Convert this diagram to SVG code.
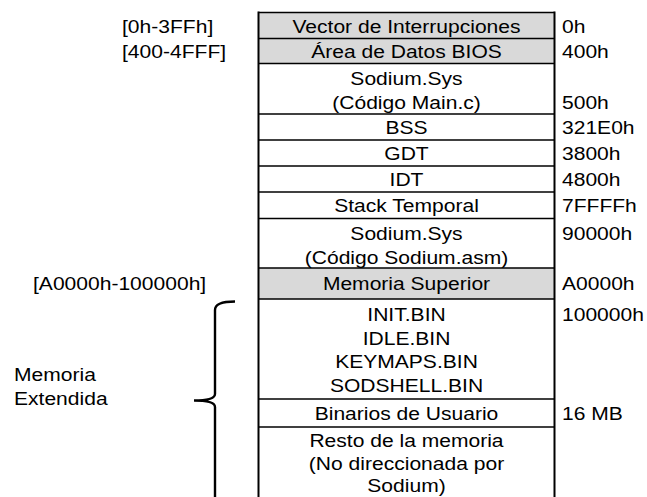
<svg xmlns="http://www.w3.org/2000/svg" width="647" height="497" viewBox="0 0 647 497">
<style>
text{font-family:"Liberation Sans",Arial,sans-serif;font-size:18.3px;fill:#000}
.c{text-anchor:middle}
.sh{fill:#d9d9d9;stroke:none}
.hl{stroke:#000;stroke-width:1.6;fill:none}
.vl{stroke:#000;stroke-width:2;fill:none}
.br{stroke:#000;stroke-width:2.4;fill:none}
</style>
<g id="background">
<rect x="0" y="0" width="647" height="497" fill="#fff"/>
</g>
<g id="shading">
<rect class="sh" x="258.5" y="12.5" width="296" height="51"/>
<rect class="sh" x="258.5" y="268" width="296" height="31"/>
</g>
<g id="grid">
<line class="hl" x1="258.5" y1="12.5" x2="554.5" y2="12.5"/>
<line class="hl" x1="258.5" y1="38.5" x2="554.5" y2="38.5"/>
<line class="hl" x1="258.5" y1="63.5" x2="554.5" y2="63.5"/>
<line class="hl" x1="258.5" y1="114" x2="554.5" y2="114"/>
<line class="hl" x1="258.5" y1="140" x2="554.5" y2="140"/>
<line class="hl" x1="258.5" y1="166" x2="554.5" y2="166"/>
<line class="hl" x1="258.5" y1="192" x2="554.5" y2="192"/>
<line class="hl" x1="258.5" y1="218.5" x2="554.5" y2="218.5"/>
<line class="hl" x1="258.5" y1="268" x2="554.5" y2="268"/>
<line class="hl" x1="258.5" y1="299" x2="554.5" y2="299"/>
<line class="hl" x1="258.5" y1="399" x2="554.5" y2="399"/>
<line class="hl" x1="258.5" y1="427" x2="554.5" y2="427"/>
<line class="vl" x1="258.5" y1="11.5" x2="258.5" y2="497"/>
<line class="vl" x1="554.5" y1="11.5" x2="554.5" y2="497"/>
</g>
<g id="n-vector"><text class="c" transform="translate(406.5,32.5) scale(1.15,1)">Vector de Interrupciones</text></g>
<g id="n-bios"><text class="c" transform="translate(406.5,58) scale(1.15,1)">Área de Datos BIOS</text></g>
<g id="n-sodium-main"><text class="c" transform="translate(406.5,85) scale(1.15,1)">Sodium.Sys</text><text class="c" transform="translate(406.5,108.5) scale(1.15,1)">(Código Main.c)</text></g>
<g id="n-bss"><text class="c" transform="translate(406.5,133.5) scale(1.15,1)">BSS</text></g>
<g id="n-gdt"><text class="c" transform="translate(406.5,159.5) scale(1.15,1)">GDT</text></g>
<g id="n-idt"><text class="c" transform="translate(406.5,185.5) scale(1.15,1)">IDT</text></g>
<g id="n-stack"><text class="c" transform="translate(406.5,211.5) scale(1.15,1)">Stack Temporal</text></g>
<g id="n-sodium-asm"><text class="c" transform="translate(406.5,240) scale(1.15,1)">Sodium.Sys</text><text class="c" transform="translate(406.5,263.5) scale(1.15,1)">(Código Sodium.asm)</text></g>
<g id="n-superior"><text class="c" transform="translate(406.5,290) scale(1.15,1)">Memoria Superior</text></g>
<g id="n-bins"><text class="c" transform="translate(406.5,321) scale(1.15,1)">INIT.BIN</text><text class="c" transform="translate(406.5,344.5) scale(1.15,1)">IDLE.BIN</text><text class="c" transform="translate(406.5,368) scale(1.15,1)">KEYMAPS.BIN</text><text class="c" transform="translate(406.5,391.5) scale(1.15,1)">SODSHELL.BIN</text></g>
<g id="n-usuario"><text class="c" transform="translate(406.5,419.5) scale(1.15,1)">Binarios de Usuario</text></g>
<g id="n-resto"><text class="c" transform="translate(406.5,446.5) scale(1.15,1)">Resto de la memoria</text><text class="c" transform="translate(406.5,469.5) scale(1.15,1)">(No direccionada por</text><text class="c" transform="translate(406.5,492) scale(1.15,1)">Sodium)</text></g>
<g id="addresses">
<text transform="translate(562,32.5) scale(1.15,1)">0h</text>
<text transform="translate(562,58) scale(1.15,1)">400h</text>
<text transform="translate(562,108.5) scale(1.15,1)">500h</text>
<text transform="translate(562,133.5) scale(1.15,1)">321E0h</text>
<text transform="translate(562,159.5) scale(1.15,1)">3800h</text>
<text transform="translate(562,185.5) scale(1.15,1)">4800h</text>
<text transform="translate(562,211.5) scale(1.15,1)">7FFFFh</text>
<text transform="translate(562,240) scale(1.15,1)">90000h</text>
<text transform="translate(562,290) scale(1.15,1)">A0000h</text>
<text transform="translate(562,321) scale(1.15,1)">100000h</text>
<text transform="translate(562,419.5) scale(1.15,1)">16 MB</text>
</g>
<g id="ranges">
<text transform="translate(122,32.5) scale(1.15,1)">[0h-3FFh]</text>
<text transform="translate(122,58) scale(1.15,1)">[400-4FFF]</text>
<text transform="translate(33,290) scale(1.15,1)">[A0000h-100000h]</text>
</g>
<g id="n-extendida">
<text transform="translate(14,381) scale(1.15,1)">Memoria</text>
<text transform="translate(14,404.5) scale(1.15,1)">Extendida</text>
</g>
<g id="connectors">
<path class="br" d="M235,301.5 Q215,301.5 215,310 L215,394 Q215,400.5 194,400.5 Q215,400.5 215,407 L215,497"/>
</g>
</svg>
